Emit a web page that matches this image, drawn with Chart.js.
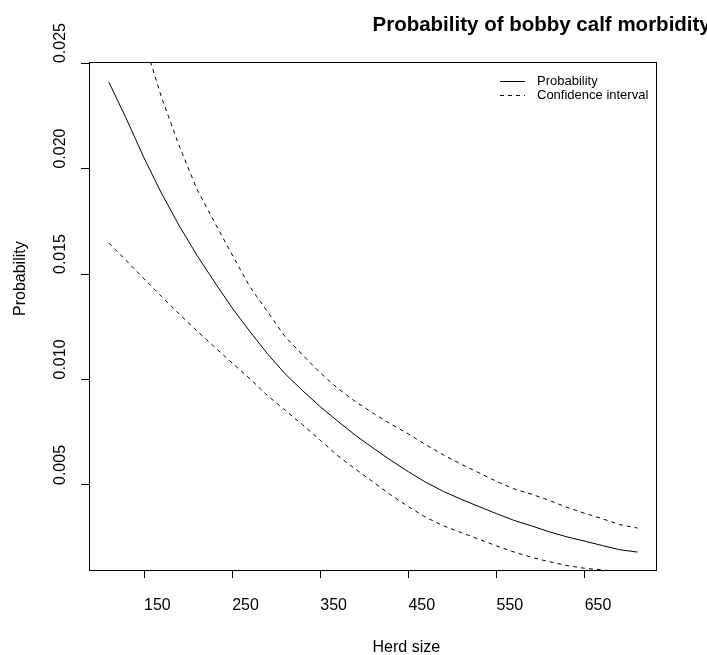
<!DOCTYPE html>
<html>
<head>
<meta charset="utf-8">
<script src="https://cdn.jsdelivr.net/npm/chart.js"></script>
<style>
  html, body { margin: 0; padding: 0; background: #fff; }
  canvas { display: block; }
</style>
</head>
<body>
<canvas id="chart" width="707" height="655"></canvas>
<script>
// Herd size values along the x axis
const herdSize = [110, 130, 150, 170, 190, 210, 230, 250, 270, 290, 310,
  330, 350, 370, 390, 410, 430, 450, 470, 490, 510, 530, 550, 570, 590,
  610, 630, 650, 670, 690, 710];

// Estimated probability (solid line)
const probability = [0.0241, 0.02235, 0.0205, 0.01881, 0.01728, 0.01589,
  0.01462, 0.01339, 0.01228, 0.01122, 0.01027, 0.00947, 0.00871, 0.00802,
  0.00735, 0.00675, 0.00617, 0.00563, 0.00512, 0.00469, 0.00432, 0.00398,
  0.00364, 0.00332, 0.00306, 0.00278, 0.00254, 0.00234, 0.00213, 0.00193,
  0.00182];

// Confidence interval bounds (dashed lines)
const upperCI = [0.0320, 0.0291, 0.02604, 0.02335, 0.02106, 0.01902,
  0.01745, 0.01591, 0.0144, 0.01322, 0.01203, 0.01116, 0.01031, 0.00957,
  0.00895, 0.0084, 0.00789, 0.00742, 0.0069, 0.00642, 0.00598, 0.00558,
  0.00517, 0.00481, 0.00456, 0.00427, 0.00394, 0.00366, 0.0034, 0.00312,
  0.00296];
const lowerCI = [0.01647, 0.01563, 0.01477, 0.01393, 0.0131, 0.0123,
  0.01154, 0.01078, 0.01004, 0.00924, 0.00855, 0.00785, 0.00712, 0.00638,
  0.00575, 0.00514, 0.00453, 0.00397, 0.00346, 0.00306, 0.00274, 0.00243,
  0.00211, 0.00182, 0.00157, 0.00136, 0.00118, 0.00105, 0.00097, 0.00091,
  0.00086];

const xTicks = [150, 250, 350, 450, 550, 650];
const yTicks = [0.005, 0.010, 0.015, 0.020, 0.025];

const FONT = '"Liberation Sans", Arial, Helvetica, sans-serif';

function toPoints(ys) {
  return herdSize.map((x, i) => ({ x: x, y: ys[i] }));
}

// R-style box, rotated y labels, titles and legend
const rPlot = {
  id: 'rPlot',
  afterDraw(chart) {
    const ctx = chart.ctx;
    const area = chart.chartArea;
    const ys = chart.scales.y;
    const cx = (area.left + area.right) / 2;
    const cy = (area.top + area.bottom) / 2;

    ctx.save();
    ctx.strokeStyle = '#000';
    ctx.lineWidth = 1;
    ctx.strokeRect(Math.round(area.left) + 0.5, Math.round(area.top) + 0.5,
      Math.round(area.right - area.left), Math.round(area.bottom - area.top));

    ctx.fillStyle = '#000';
    ctx.textAlign = 'left';
    ctx.textBaseline = 'alphabetic';

    // y tick labels, rotated
    ctx.font = '16px ' + FONT;
    yTicks.forEach(v => {
      const py = ys.getPixelForValue(v);
      ctx.save();
      ctx.translate(65, py);
      ctx.rotate(-Math.PI / 2);
      ctx.fillText(v.toFixed(3), 0, 0);
      ctx.restore();
    });

    // axis titles
    ctx.save();
    ctx.translate(25, cy);
    ctx.rotate(-Math.PI / 2);
    ctx.fillText('Probability', 0, 0);
    ctx.restore();
    ctx.fillText('Herd size', cx, 652);

    // main title
    ctx.font = 'bold 20.5px ' + FONT;
    ctx.fillText('Probability of bobby calf morbidity', cx, 31);

    // legend
    ctx.font = '13px ' + FONT;
    ctx.textBaseline = 'middle';
    ctx.beginPath();
    ctx.moveTo(500, 81.5);
    ctx.lineTo(525, 81.5);
    ctx.stroke();
    ctx.setLineDash([4, 4]);
    ctx.beginPath();
    ctx.moveTo(500, 95.5);
    ctx.lineTo(525, 95.5);
    ctx.stroke();
    ctx.setLineDash([]);
    ctx.fillText('Probability', 537, 81);
    ctx.fillText('Confidence interval', 537, 95);
    ctx.restore();
  }
};

const ctx = document.getElementById('chart').getContext('2d');
new Chart(ctx, {
  type: 'line',
  data: {
    datasets: [
      {
        label: 'Probability',
        data: toPoints(probability),
        borderColor: '#000',
        borderWidth: 1,
        pointRadius: 0,
        tension: 0
      },
      {
        label: 'Confidence interval',
        data: toPoints(upperCI),
        borderColor: '#000',
        borderWidth: 1,
        borderDash: [4, 4],
        pointRadius: 0,
        tension: 0
      },
      {
        label: 'Lower',
        data: toPoints(lowerCI),
        borderColor: '#000',
        borderWidth: 1,
        borderDash: [4, 4],
        pointRadius: 0,
        tension: 0
      }
    ]
  },
  options: {
    responsive: false,
    animation: false,
    devicePixelRatio: 1,
    layout: { padding: { top: 62, right: 51, left: 0, bottom: 0 } },
    plugins: {
      legend: { display: false },
      tooltip: { enabled: false }
    },
    scales: {
      x: {
        type: 'linear',
        min: 87.5,
        max: 731,
        afterBuildTicks: s => { s.ticks = xTicks.map(v => ({ value: v })); },
        afterFit: s => { s.height = 85; },
        border: { display: false },
        grid: { drawOnChartArea: false, tickLength: 8, color: '#000' },
        ticks: {
          align: 'start',
          padding: 18,
          color: '#000',
          font: { family: FONT, size: 16 }
        }
      },
      y: {
        type: 'linear',
        min: 0.00097,
        max: 0.02505,
        afterBuildTicks: s => { s.ticks = yTicks.map(v => ({ value: v })); },
        afterFit: s => { s.width = 89; },
        border: { display: false },
        grid: { drawOnChartArea: false, tickLength: 8, color: '#000' },
        ticks: { display: false }
      }
    }
  },
  plugins: [rPlot]
});
</script>
</body>
</html>
